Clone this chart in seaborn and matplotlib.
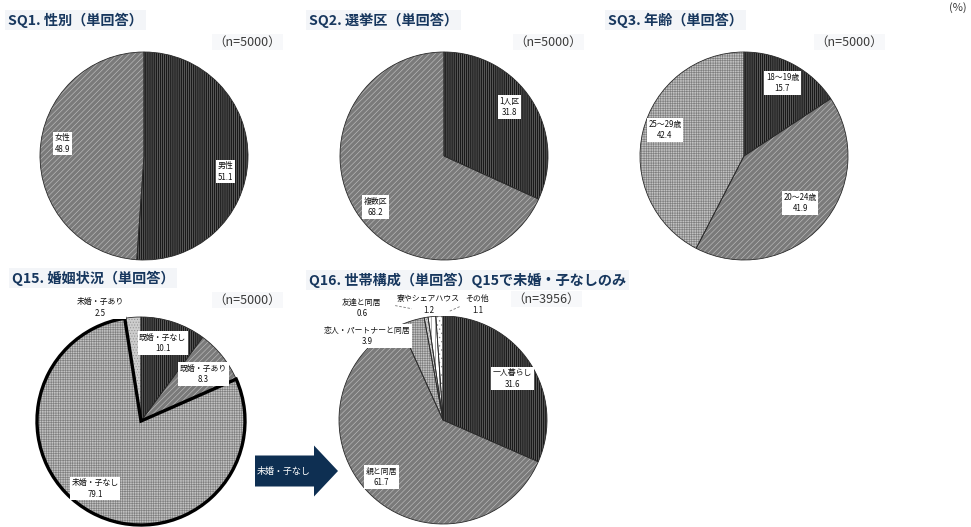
import numpy as np
import matplotlib
matplotlib.use("Agg")
import matplotlib.pyplot as plt
from matplotlib.patches import FancyArrow
import seaborn as sns

# ---------------- data ----------------
sq1_labels = ["男性", "女性"]
sq1_values = [51.1, 48.9]

sq2_labels = ["1人区", "複数区"]
sq2_values = [31.8, 68.2]

sq3_labels = ["18〜19歳", "20〜24歳", "25〜29歳"]
sq3_values = [15.7, 41.9, 42.4]

q15_labels = ["既婚・子なし", "既婚・子あり", "未婚・子なし", "未婚・子あり"]
q15_values = [10.1, 8.3, 79.1, 2.5]

q16_labels = ["一人暮らし", "親と同居", "恋人・パートナーと同居", "友達と同居",
              "寮やシェアハウス", "その他"]
q16_values = [31.6, 61.7, 3.9, 0.6, 1.2, 1.1]

titles = ["SQ1. 性別（単回答）", "SQ2. 選挙区（単回答）", "SQ3. 年齢（単回答）",
          "Q15. 婚姻状況（単回答）", "Q16. 世帯構成（単回答）Q15で未婚・子なしのみ"]
n_texts = ["（n=5000）", "（n=5000）", "（n=5000）", "（n=5000）", "（n=3956）"]
arrow_text = "未婚・子なし"
unit_text = "(%)"

# ---------------- style ----------------
sns.set_theme(style="white")
plt.rcParams["font.family"] = ["Noto Sans CJK JP", "DejaVu Sans"]
plt.rcParams["hatch.linewidth"] = 0.45

W, H, DPI = 971, 527, 100
NAVY = "#17375e"
R = 104  # pie radius in pixels
K = 1.45  # axes half-extent in radius units

# fill patterns: (face colour, hatch, hatch colour)
face = sns.color_palette(["#1a1a1a", "#7a7a7a", "#c2c2c2", "#cdcdcd", "#ffffff", "#ffffff"])
FILLS = {
    "dark": (face[0], "||||||||", "#7c7c7c"),
    "mid": (face[1], "//////", "#bdbdbd"),
    "grid": (face[2], "+++++++", "#7e7e7e"),
    "pale": (face[3], "......", "#939393"),
    "dash": (face[4], "||||", "#7a7a7a"),
    "dot": (face[5], "....", "#8a8a8a"),
}

fig = plt.figure(figsize=(W / DPI, H / DPI), dpi=DPI)
fig.patch.set_facecolor("white")

ov = fig.add_axes([0, 0, 1, 1])
ov.set_xlim(0, W)
ov.set_ylim(H, 0)
ov.axis("off")


def pie_axes(cx, cy):
    return fig.add_axes([(cx - K * R) / W, 1 - (cy + K * R) / H, 2 * K * R / W, 2 * K * R / H])


def draw_pie(cx, cy, values, labels, styles, label_xy, bold_idx=None, leaders=()):
    ax = pie_axes(cx, cy)
    wedges, _ = ax.pie(values, startangle=90, counterclock=False, radius=1.0)
    for w, s in zip(wedges, styles):
        fc, hatch, hc = FILLS[s]
        w.set_facecolor(fc)
        w.set_edgecolor(hc)
        w.set_hatch(hatch)
        w.set_linewidth(0)
    # outlines on top of the patterned fills
    outl, _ = ax.pie(values, startangle=90, counterclock=False, radius=1.0,
                     wedgeprops=dict(facecolor="none", edgecolor="#2a2a2a", linewidth=0.6))
    if bold_idx is not None:
        ob = outl[bold_idx]
        ob.set_edgecolor("black")
        ob.set_linewidth(2.4)
        ob.set_joinstyle("miter")
        ob.set_zorder(5)
    for lab, val, (lx, ly) in zip(labels, values, label_xy):
        ax.text(lx, ly, f"{lab}\n{val:.1f}", ha="center", va="center", fontsize=5.7,
                linespacing=1.35, color="#111111", zorder=6,
                bbox=dict(boxstyle="square,pad=0.2", fc="white", ec="none"))
    for (x0, y0), (x1, y1) in leaders:
        ax.plot([x0, x1], [y0, y1], color="#777777", lw=0.6, ls=(0, (3, 2)), zorder=6)
    ax.set_xlim(-K, K)
    ax.set_ylim(-K, K)
    ax.set_aspect("equal")
    ax.axis("off")
    return ax


# label positions (radius units, relative to pie centre)
sq1_pos = [(0.78, -0.15), (-0.78, 0.12)]
sq2_pos = [(0.63, 0.47), (-0.66, -0.49)]
sq3_pos = [(0.37, 0.70), (0.54, -0.45), (-0.76, 0.25)]
q15_pos = [(0.21, 0.75), (0.60, 0.45), (-0.44, -0.65), (-0.39, 1.09)]
q16_pos = [(0.67, 0.40), (-0.59, -0.55), (-0.73, 0.81), (-0.78, 1.08),
           (-0.14, 1.11), (0.33, 1.11)]
q16_leaders = [((-0.46, 1.10), (-0.30, 1.07)), ((0.16, 1.09), (0.05, 1.04))]

draw_pie(144, 156, sq1_values, sq1_labels, ["dark", "mid"], sq1_pos)
draw_pie(444, 156, sq2_values, sq2_labels, ["dark", "mid"], sq2_pos)
draw_pie(744, 156, sq3_values, sq3_labels, ["dark", "mid", "grid"], sq3_pos)
draw_pie(141, 421, q15_values, q15_labels, ["dark", "mid", "grid", "pale"], q15_pos, bold_idx=2)
draw_pie(443, 420, q16_values, q16_labels, ["dark", "mid", "grid", "pale", "dash", "dot"],
         q16_pos, leaders=q16_leaders)

# titles
title_xy = [(8, 20), (309, 20), (608, 20), (12, 278), (309, 280)]
for t, (x, y) in zip(titles, title_xy):
    ov.text(x, y, t, ha="left", va="center", fontsize=10.2, fontweight="bold", color=NAVY,
            bbox=dict(boxstyle="square,pad=0.2", fc="#f3f5f8", ec="none"))

n_xy = [(281, 42), (582, 42), (883, 42), (281, 300), (580, 299)]
for t, (x, y) in zip(n_texts, n_xy):
    ov.text(x, y, t, ha="right", va="center", fontsize=9, color="#3a3a3a",
            bbox=dict(boxstyle="square,pad=0.15", fc="#f7f8fa", ec="none"))

ov.text(967, 8, unit_text, ha="right", va="center", fontsize=8, color="#3a3a3a")

# block arrow linking Q15 to Q16
ov.add_patch(FancyArrow(255, 471, 83, 0, width=31, head_width=51, head_length=24,
                        length_includes_head=True, color="#0e2f52", lw=0))
ov.text(284, 471, arrow_text, ha="center", va="center", fontsize=6.5, color="white")

fig.savefig("out.png", dpi=DPI, facecolor="white")
